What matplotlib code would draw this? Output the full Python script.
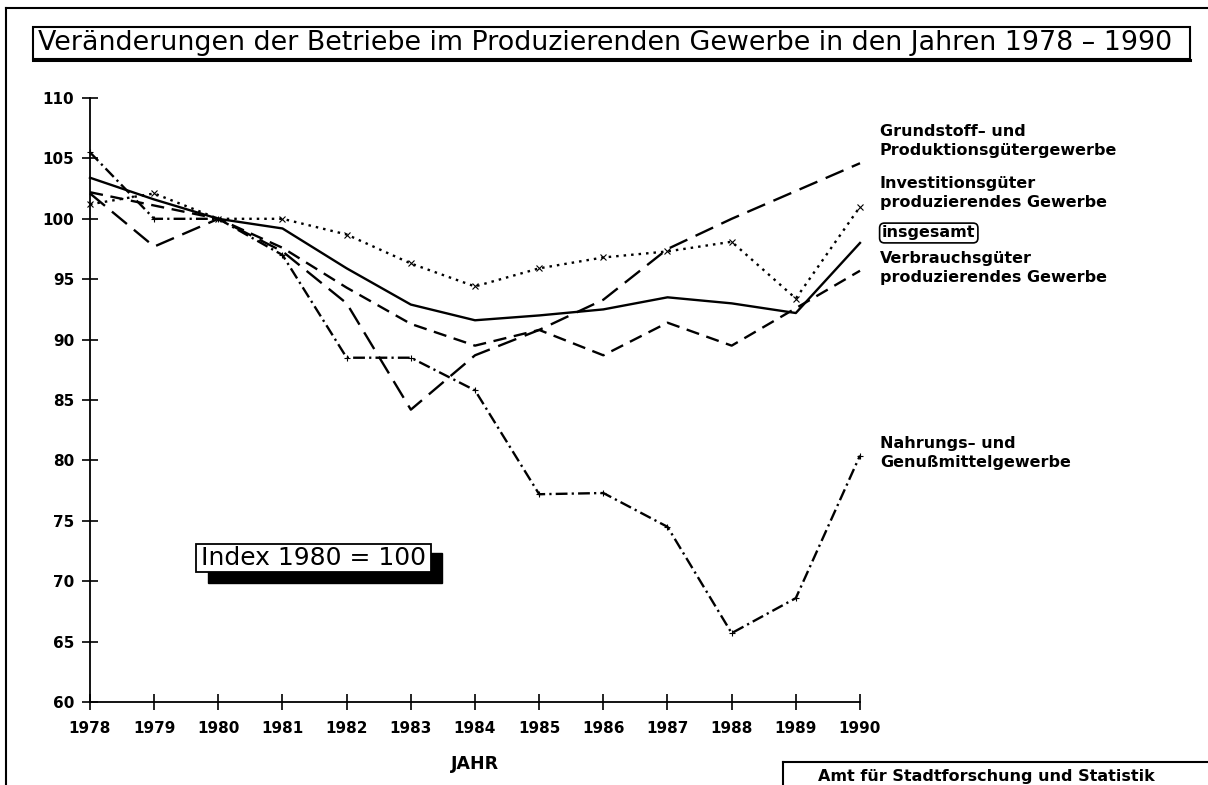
import matplotlib
matplotlib.use("Agg")
import matplotlib.pyplot as plt
from matplotlib.patches import Rectangle
from matplotlib.lines import Line2D

plt.rcParams['font.family'] = ['DejaVu Sans']
plt.rcParams['lines.scale_dashes'] = False

# data (Index 1980 = 100)
years = [1978, 1979, 1980, 1981, 1982, 1983, 1984, 1985, 1986, 1987, 1988, 1989, 1990]
insgesamt   = [103.4, 101.6, 100.0, 99.2, 95.9, 92.9, 91.6, 92.0, 92.5, 93.5, 93.0, 92.2, 98.0]
grundstoff  = [102.1, 97.7, 100.0, 97.3, 93.0, 84.2, 88.7, 90.8, 93.3, 97.5, 100.0, 102.3, 104.6]
investition = [101.2, 102.1, 100.0, 100.0, 98.7, 96.3, 94.4, 95.9, 96.8, 97.3, 98.1, 93.4, 101.0]
verbrauch   = [102.2, 101.1, 100.0, 97.6, 94.3, 91.3, 89.5, 90.8, 88.7, 91.4, 89.5, 92.6, 95.7]
nahrung     = [105.5, 100.0, 100.0, 97.0, 88.5, 88.5, 85.8, 77.2, 77.3, 74.5, 65.7, 68.6, 80.4]

yticks = list(range(60, 111, 5))
title = "Veränderungen der Betriebe im Produzierenden Gewerbe in den Jahren 1978 – 1990"

fig = plt.figure(figsize=(12.08, 7.85), dpi=100)
W, H = 1208.0, 785.0
def fx(px): return px / W
def fy(py): return 1 - py / H

ax = fig.add_axes([fx(90), fy(702), fx(860) - fx(90), fy(98) - fy(702)])

lw = 1.7
ax.plot(years, insgesamt, color='black', lw=lw, clip_on=False)
ax.plot(years, grundstoff, color='black', lw=lw, dashes=(14, 6.5), clip_on=False)
ax.plot(years, investition, color='black', lw=lw, dashes=(1.8, 3.6), marker='x',
        ms=5, mew=0.8, clip_on=False)
ax.plot(years, verbrauch, color='black', lw=lw, dashes=(9.5, 5.5), clip_on=False)
ax.plot(years, nahrung, color='black', lw=lw, dashes=(8.5, 3, 1.6, 3), marker='+',
        ms=4, mew=0.8, clip_on=False)

ax.set_xlim(1978, 1990)
ax.set_ylim(60, 110)
ax.set_xticks(years)
ax.set_yticks(yticks)
ax.set_xticklabels([str(y) for y in years], fontsize=11, fontweight='bold')
ax.set_yticklabels([str(v) for v in yticks], fontsize=11, fontweight='bold')
ax.tick_params(axis='both', direction='inout', length=11, width=1.2, color='black', pad=6)
ax.tick_params(axis='x', pad=8)
for s in ['top', 'right']:
    ax.spines[s].set_visible(False)
for s in ['left', 'bottom']:
    ax.spines[s].set_linewidth(1.3)
ax.set_facecolor('none')
ax.set_xlabel("JAHR", fontsize=12.5, fontweight='bold', labelpad=14)

# series labels on the right
lab = dict(fontsize=11.5, fontweight='bold', va='center', ha='left', linespacing=1.4)
fig.text(fx(880), fy(141), "Grundstoff– und\nProduktionsgütergewerbe", **lab)
fig.text(fx(880), fy(193), "Investitionsgüter\nproduzierendes Gewerbe", **lab)
fig.text(fx(882), fy(233), "insgesamt",
         bbox=dict(boxstyle='round,pad=0.15,rounding_size=0.3', fc='white', ec='black', lw=1.2), **lab)
fig.text(fx(880), fy(268), "Verbrauchsgüter\nproduzierendes Gewerbe", **lab)
fig.text(fx(880), fy(453), "Nahrungs– und\nGenußmittelgewerbe", **lab)

# index box with shadow
fig.add_artist(Rectangle((fx(208), fy(583)), fx(442) - fx(208), fy(553) - fy(583),
                         transform=fig.transFigure, fc='black', ec='black'))
fig.add_artist(Rectangle((fx(196), fy(572)), fx(431) - fx(196), fy(544) - fy(572),
                         transform=fig.transFigure, fc='white', ec='black', lw=1.3))
fig.text(fx(201), fy(558), "Index 1980 = 100", fontsize=18, va='center', ha='left')

# title box
fig.add_artist(Rectangle((fx(33), fy(59)), fx(1190) - fx(33), fy(27) - fy(59),
                         transform=fig.transFigure, fc='none', ec='black', lw=1.5))
fig.add_artist(Line2D([fx(33), fx(1190)], [fy(60), fy(60)], transform=fig.transFigure,
                      color='black', lw=2.2))
fig.text(fx(38), fy(43), title, fontsize=19.4, va='center', ha='left')

# outer frame and footer box
fig.add_artist(Line2D([fx(6), fx(1208)], [fy(8), fy(8)], transform=fig.transFigure,
                      color='black', lw=1.5))
fig.add_artist(Line2D([fx(6), fx(6)], [fy(8), fy(785)], transform=fig.transFigure,
                      color='black', lw=1.5))
fig.add_artist(Line2D([fx(783), fx(1208)], [fy(762), fy(762)], transform=fig.transFigure,
                      color='black', lw=1.5))
fig.add_artist(Line2D([fx(783), fx(783)], [fy(762), fy(785)], transform=fig.transFigure,
                      color='black', lw=1.5))
fig.text(fx(818), fy(776), "Amt für Stadtforschung und Statistik", fontsize=11.5,
         fontweight='bold', va='center', ha='left')

fig.savefig("out.png", dpi=100, facecolor='white')
